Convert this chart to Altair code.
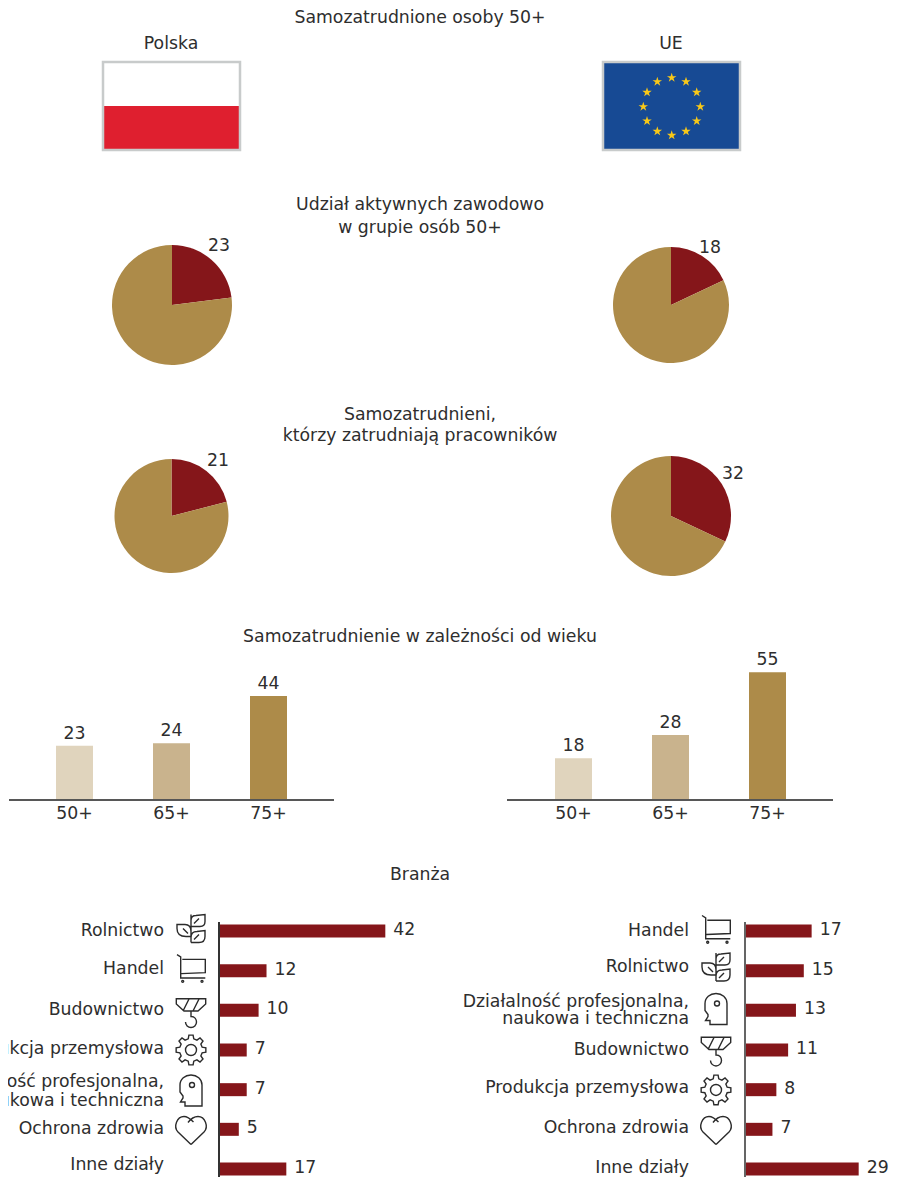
import math
import altair as alt
import pandas as pd

FONT = "DejaVu Sans"
TXT = "#2e2e2e"
RED = "#85161a"
GOLD = "#ad8b49"
MID = "#c9b38d"
LIGHT = "#e0d4bd"
FS = 17.3

titles = ["Samozatrudnione osoby 50+", "Udział aktywnych zawodowo\nw grupie osób 50+",
          "Samozatrudnieni,\nktórzy zatrudniają pracowników",
          "Samozatrudnienie w zależności od wieku", "Branża"]
regions = ["Polska", "UE"]

pie_pl_1 = [23, 77]
pie_eu_1 = [18, 82]
pie_pl_2 = [21, 79]
pie_eu_2 = [32, 68]

ages = ["50+", "65+", "75+"]
age_pl = [23, 24, 44]
age_eu = [18, 28, 55]

sect_pl = ["Rolnictwo", "Handel", "Budownictwo", "Produkcja przemysłowa",
           "Działalność profesjonalna,\nnaukowa i techniczna", "Ochrona zdrowia", "Inne działy"]
val_pl = [42, 12, 10, 7, 7, 5, 17]
sect_eu = ["Handel", "Rolnictwo", "Działalność profesjonalna,\nnaukowa i techniczna", "Budownictwo",
           "Produkcja przemysłowa", "Ochrona zdrowia", "Inne działy"]
val_eu = [17, 15, 13, 11, 8, 7, 29]

star_x = [68.7, 83, 93.7, 97.3, 93.7, 83, 68.7, 54.3, 44, 40.3, 44, 54.3]
star_y = [15.7, 19.7, 30.3, 44.7, 59, 69.3, 73.3, 69.3, 59, 44.7, 30.3, 19.7]

# ---- icon outlines (pixel units around the icon centre, drawn with size=4)
def gear_path():
    pts = []
    n = 8
    for i in range(n):
        a = 2 * math.pi * i / n - math.pi / 2
        w = math.pi / n
        for r, d in [(11.5, -0.62), (15, -0.36), (15, 0.36), (11.5, 0.62)]:
            pts.append((r * math.cos(a + d * w), r * math.sin(a + d * w)))
    p = "M" + "L".join(f"{x:.2f},{y:.2f}" for x, y in pts) + "Z"
    return p + " M5.5,0 A5.5,5.5 0 1 1 -5.5,0 A5.5,5.5 0 1 1 5.5,0Z"

ICONS = {
    "leaf": "M0,-14 L0,14 M0,-3 L0,-8 Q0,-13 5,-13 L14,-14 L14,-7 Q14,-2 9,-2 L0,-2 M3,-5 L8,-10 "
            "M0,14 L8,14 Q14,14 14,8 L14,2 L6,3 Q0,3 0,9 M3,11 L8,6 "
            "M0,8 L-5,8 Q-14,8 -14,0 L-14,-4 L-6,-4 Q0,-4 0,3 M-3,5 L-8,0",
    "cart": "M-14,-14 L-10.3,-11.7 L-10.3,9.3 L14.3,9.3 M-8.7,-9.3 L14.3,-9.3 L14.3,4 L-9.7,5 "
            "M-7.3,12.7 A1,1 0 1 1 -9.3,12.7 A1,1 0 1 1 -7.3,12.7Z M12,12.7 A1,1 0 1 1 10,12.7 A1,1 0 1 1 12,12.7Z",
    "hook": "M-14.7,-14.3 L14.7,-14.3 L14.7,-9 L7,-2 L-7,-2 L-14.7,-9 Z M-2,-14 L-8,-2 M8,-14 L2,-2 M0,-2 L0,3.5 "
            "C4,3.5 5.5,6.5 5.5,9 C5.5,12 3,14.5 0,14.5 C-3,14.5 -5.5,12 -5.5,9",
    "gear": gear_path(),
    "head": "M11,15 L11,-6 C11,-12 6,-16 0,-16 C-6,-16 -11,-12 -11,-6 L-11,1 L-8,5 L-8,7 L-10.5,11 L-6,11 L-6,15 Z "
            "M3.5,-6 A2.5,2.5 0 1 1 -1.5,-6 A2.5,2.5 0 1 1 3.5,-6Z",
    "heart": "M0,14 L-13,1.5 C-18,-4 -14,-14 -7,-14 C-3,-14 0,-11 2.5,-8.5 M0,14 L13,1.5 C18,-4 14,-14 7,-14 C3,-14 0,-12 -3,-8",
}
STAR = "M0,-1L.225,-.309L.951,-.309L.363,.118L.588,.809L0,.382L-.588,.809L-.363,.118L-.951,-.309L-.225,-.309Z"

W_L, W_R = 450, 441
W_ALL = W_L + W_R


def text_panel(text, h, x, y, lh=22):
    return alt.Chart(pd.DataFrame({"t": [text]})).mark_text(
        font=FONT, fontSize=FS, color=TXT, lineBreak="\n", lineHeight=lh, baseline="middle", align="center"
    ).encode(text="t:N", x=alt.value(x), y=alt.value(y)).properties(width=W_ALL, height=h)


FH = 160
def flag_scales(x0):
    return (alt.X("x0:Q", scale=alt.Scale(domain=[0, 137], range=[x0, x0 + 137], nice=False), axis=None),
            alt.Y("y0:Q", scale=alt.Scale(domain=[0, 88], range=[32, 120], nice=False), axis=None))


def label(text, x, y):
    return alt.Chart(pd.DataFrame({"t": [text]})).mark_text(
        font=FONT, fontSize=FS, color=TXT, baseline="middle", align="center"
    ).encode(text="t:N", x=alt.value(x), y=alt.value(y))


def flag_pl():
    X, Y = flag_scales(103)
    d = pd.DataFrame({"x0": [0, 0], "x1": [137, 137], "y0": [0, 44], "y1": [44, 88], "p": ["w", "r"]})
    rect = alt.Chart(d).mark_rect().encode(
        X, alt.X2("x1:Q"), Y, alt.Y2("y1:Q"),
        color=alt.Color("p:N", scale=alt.Scale(domain=["w", "r"], range=["#ffffff", "#df1f2f"]), legend=None))
    frame = alt.Chart(pd.DataFrame({"x0": [0], "x1": [137], "y0": [0], "y1": [88]})).mark_rect(
        fillOpacity=0, stroke="#c8cbcb", strokeWidth=2.5).encode(X, alt.X2("x1:Q"), Y, alt.Y2("y1:Q"))
    return alt.layer(rect, frame, label(regions[0], 171, 14)).properties(width=W_L, height=FH)


def flag_eu():
    X, Y = flag_scales(153)
    frame = alt.Chart(pd.DataFrame({"x0": [0], "x1": [137], "y0": [0], "y1": [88]})).mark_rect(
        fill="#174a94", stroke="#c8cbcb", strokeWidth=2.5).encode(X, alt.X2("x1:Q"), Y, alt.Y2("y1:Q"))
    stars = alt.Chart(pd.DataFrame({"x0": star_x, "y0": star_y})).mark_point(
        shape=STAR, size=100, filled=True, fill="#f9c818", stroke=None, opacity=1).encode(X, Y)
    return alt.layer(frame, stars, label(regions[1], 221, 14)).properties(width=W_R, height=FH)


def pie(vals, w, h, cx, cy, r, lx, ly):
    d = pd.DataFrame({"v": vals, "k": ["a", "b"], "o": [0, 1]})
    arc = alt.Chart(d).mark_arc(outerRadius=r, innerRadius=0).encode(
        theta=alt.Theta("v:Q", stack=True, scale=alt.Scale(domain=[0, 100])),
        order=alt.Order("o:O"),
        color=alt.Color("k:N", scale=alt.Scale(domain=["a", "b"], range=[RED, GOLD]), legend=None),
        x=alt.value(cx), y=alt.value(cy))
    txt = alt.Chart(pd.DataFrame({"v": vals[:1]})).mark_text(
        font=FONT, fontSize=FS, color=TXT, baseline="middle", align="center"
    ).encode(text="v:Q", x=alt.value(lx), y=alt.value(ly))
    return alt.layer(arc, txt).properties(width=w, height=h)


def age_panel(vals, w, x0, x1, a0, a1, vmax):
    d = pd.DataFrame({"c": ages, "v": vals})
    X = alt.X("c:N", sort=ages, title=None,
              scale=alt.Scale(domain=ages, range=[x0, x1], paddingInner=0.6186, paddingOuter=0),
              axis=alt.Axis(domain=False, ticks=False, labelAngle=0, labelFont=FONT, labelFontSize=FS,
                            labelColor=TXT, labelPadding=4))
    Y = alt.Y("v:Q", scale=alt.Scale(domain=[0, vmax], range=[149, 0], nice=False), axis=None)
    bars = alt.Chart(d).mark_bar().encode(
        X, Y, color=alt.Color("c:N", scale=alt.Scale(domain=ages, range=[LIGHT, MID, GOLD]), legend=None))
    txt = alt.Chart(d).mark_text(font=FONT, fontSize=FS, color=TXT, baseline="bottom", dy=-3).encode(X, Y, text="v:Q")
    rule = alt.Chart(d).mark_rule(color="#555555", strokeWidth=1.5).encode(
        x=alt.value(a0), x2=alt.value(a1), y=alt.value(149))
    return alt.layer(bars, txt, rule).properties(width=w, height=149)


def sector_panel(cats, vals, w, ax, per_unit, lab_x, icon_x, rows, rule_color, lh):
    d = pd.DataFrame({"c": cats, "v": vals})
    X = alt.X("v:Q", scale=alt.Scale(domain=[0, 100], range=[ax, ax + per_unit * 100], nice=False), axis=None)
    Y = alt.Y("c:N", sort=cats, axis=None,
              scale=alt.Scale(type="point", domain=cats, range=[34, 272], padding=0))
    bars = alt.Chart(d).mark_bar(color=RED, size=13).encode(X, Y)
    vt = alt.Chart(d).mark_text(font=FONT, fontSize=FS, color=TXT, align="left", baseline="middle", dx=8, dy=-1).encode(
        X, Y, text="v:Q")
    rule = alt.Chart(d).mark_rule(color=rule_color, strokeWidth=1.5).encode(
        x=alt.value(ax), y=alt.value(25), y2=alt.value(282))
    layers = [bars, vt, rule]
    for cat, dy, icon, ioff in rows:
        sub = d[d.c == cat]
        layers.append(alt.Chart(sub).mark_text(
            font=FONT, fontSize=FS, color=TXT, align="right", baseline="middle", dy=dy,
            lineBreak="\n", lineHeight=lh, clip=True
        ).encode(Y, x=alt.value(lab_x), text="c:N"))
        if icon:
            layers.append(alt.Chart(sub).mark_point(
                shape=ICONS[icon], size=4, filled=False, stroke="#2b2b2b", strokeWidth=1.4, opacity=1, yOffset=ioff
            ).encode(Y, x=alt.value(icon_x)))
    return alt.layer(*layers).properties(width=w, height=282)


rows_pl = [(sect_pl[0], 0, "leaf", -2.5), (sect_pl[1], -1.5, "cart", -2), (sect_pl[2], 0, "hook", 2.7),
           (sect_pl[3], -1, "gear", 0), (sect_pl[4], -7.7, "head", 1.3), (sect_pl[5], 0, "heart", 1.2),
           (sect_pl[6], -4, None, 0)]
rows_eu = [(sect_eu[0], 0, "cart", -1.5), (sect_eu[1], -3.7, "leaf", -3.7), (sect_eu[2], -8.3, "head", -0.8),
           (sect_eu[3], 0, "hook", 1.5), (sect_eu[4], -1.7, "gear", 0.3), (sect_eu[5], -1.3, "heart", 1.2),
           (sect_eu[6], -1, None, 0)]


def row(a, b):
    return alt.hconcat(a, b, spacing=0).resolve_scale(color="independent")


chart = alt.vconcat(
    text_panel(titles[0], 30, 420, 18),
    row(flag_pl(), flag_eu()),
    text_panel(titles[1], 46, 420, 15, 23),
    row(pie(pie_pl_1, W_L, 157, 172, 67, 60, 219, 8), pie(pie_eu_1, W_R, 157, 221, 67, 58, 260, 10)),
    text_panel(titles[2], 50, 420, 20, 21),
    row(pie(pie_pl_2, W_L, 175, 171.5, 71, 57, 218, 16), pie(pie_eu_2, W_R, 175, 221, 71, 60, 283, 29)),
    text_panel(titles[3], 30.5, 420, 17),
    row(age_panel(age_pl, W_L, 56, 287, 9, 334, 63.1), age_panel(age_eu, W_R, 105, 336, 57, 383, 64.2)),
    text_panel(titles[4], 74.5, 420, 53),
    row(sector_panel(sect_pl, val_pl, W_L, 219, 3.96, 164, 191, rows_pl, "#333333", 19),
        sector_panel(sect_eu, val_eu, W_R, 295, 3.92, 239, 266, rows_eu, "#666666", 17)),
    spacing=0,
).resolve_scale(color="independent").properties(
    padding={"left": -8, "top": -8, "right": 0, "bottom": 0}).configure_view(stroke=None)

chart.save("out.html", embed_options={"renderer": "svg", "actions": False})
